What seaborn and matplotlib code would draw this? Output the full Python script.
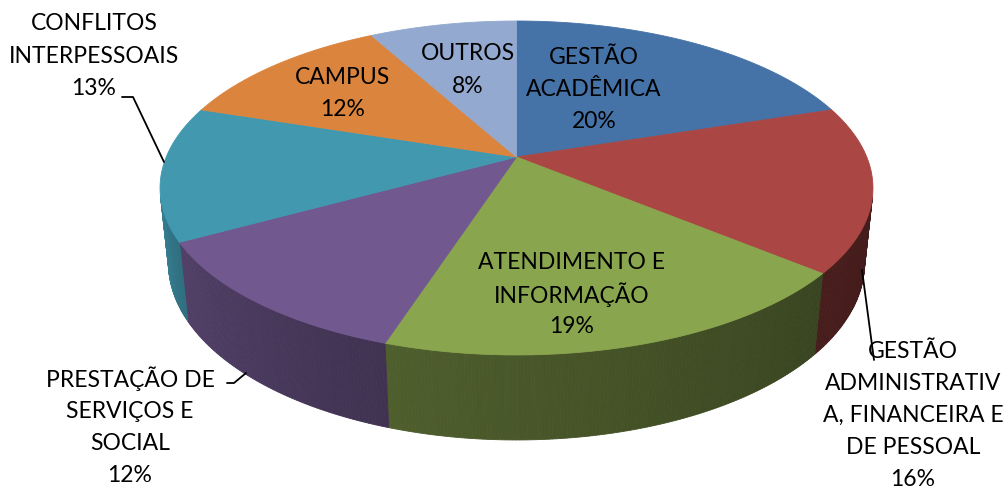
import numpy as np
import matplotlib.pyplot as plt
import seaborn as sns
from matplotlib.patches import Polygon

# dados do gráfico
categorias = ["GESTÃO\nACADÊMICA", "GESTÃO\nADMINISTRATIV\nA, FINANCEIRA E\nDE PESSOAL",
              "ATENDIMENTO E\nINFORMAÇÃO", "PRESTAÇÃO DE\nSERVIÇOS E\nSOCIAL",
              "CONFLITOS\nINTERPESSOAIS", "CAMPUS", "OUTROS"]
percentuais = [20, 16, 19, 12, 13, 12, 8]
cores = ["#4572A7", "#AA4643", "#89A54E", "#71588F", "#4198AF", "#DB843D", "#93A9CF"]

sns.set_theme(style="white")
plt.rcParams['font.family'] = ['Lato', 'DejaVu Sans']
paleta = sns.color_palette(cores)

# projeção 3D (coordenadas em pixels)
cx, cy = 516.5, 157.0
s_a, c_a = 0.4603, 0.8878
D, F, h = 4.785, 1676.0, 0.244


def proj(phi, z=0.0):
    depth = D + np.sin(phi) * c_a - z * s_a
    x = cx + F * np.cos(phi) / depth
    y = cy - F * (np.sin(phi) * s_a + z * c_a) / depth
    return x, y


def sombra(phi_deg):
    return np.interp(phi_deg, [-180, -166, -150, -112, -42, -14, 0],
                     [0.88, 0.85, 0.72, 0.58, 0.42, 0.40, 0.40])


fig = plt.figure(figsize=(10.07, 4.90), dpi=100)
ax = fig.add_axes([0, 0, 1, 1])
ax.set_xlim(0, 1007)
ax.set_ylim(490, 0)
ax.axis("off")

tot = sum(percentuais)
cum = np.concatenate([[0], np.cumsum(percentuais)])
ini = 90 - 360 * cum[:-1] / tot
fim = 90 - 360 * cum[1:] / tot

k = 1 / (D * c_a)
vis_lo = -180 + np.degrees(np.arcsin(k))
vis_hi = -np.degrees(np.arcsin(k))

# paredes laterais
for a0, a1, cor in zip(ini, fim, paleta):
    for off in (0, -360):
        lo = max(a1 + off, vis_lo)
        hi = min(a0 + off, vis_hi)
        if hi <= lo:
            continue
        angs = np.linspace(lo, hi, int((hi - lo) * 2) + 2)
        for p0, p1 in zip(angs[:-1], angs[1:]):
            r0, r1 = np.radians(p0), np.radians(p1)
            xs0, ys0 = proj(r0)
            xs1, ys1 = proj(r1)
            xb1, yb1 = proj(r1, -h)
            xb0, yb0 = proj(r0, -h)
            f = sombra((p0 + p1) / 2)
            c = tuple(np.array(cor) * f)
            ax.add_patch(Polygon([(xs0, ys0), (xs1, ys1), (xb1, yb1), (xb0, yb0)],
                                 closed=True, facecolor=c, edgecolor=c, lw=0.6))

# faces superiores
for a0, a1, cor in zip(ini, fim, paleta):
    t = np.radians(np.linspace(a0, a1, 200))
    xs, ys = proj(t)
    pts = [proj(0.0, 0.0)] + list(zip(xs, ys))
    pts[0] = (cx, cy)
    ax.add_patch(Polygon(pts, closed=True, facecolor=cor, edgecolor=cor, lw=0.6))

# rótulos
pos_rotulos = [(594, 57), (913, 351), (572, 262), (130, 379), (94, 24), (343, 77), (468, 54)]
passo = 32.2
for nome, pct, (x, y) in zip(categorias, percentuais, pos_rotulos):
    linhas = nome.split("\n") + [f"{pct}%"]
    for i, ln in enumerate(linhas):
        ax.text(x, y + i * passo, ln, ha="center", va="center", fontsize=16.5, color="black")

# linhas de chamada
ax.plot([122, 133, 164], [97, 97, 162], color="black", lw=1.3)
ax.plot([227, 234, 246], [383, 383, 373], color="black", lw=1.3)
ax.plot([862, 874], [270, 360], color="black", lw=1.3)

fig.savefig("out.png", dpi=100)
